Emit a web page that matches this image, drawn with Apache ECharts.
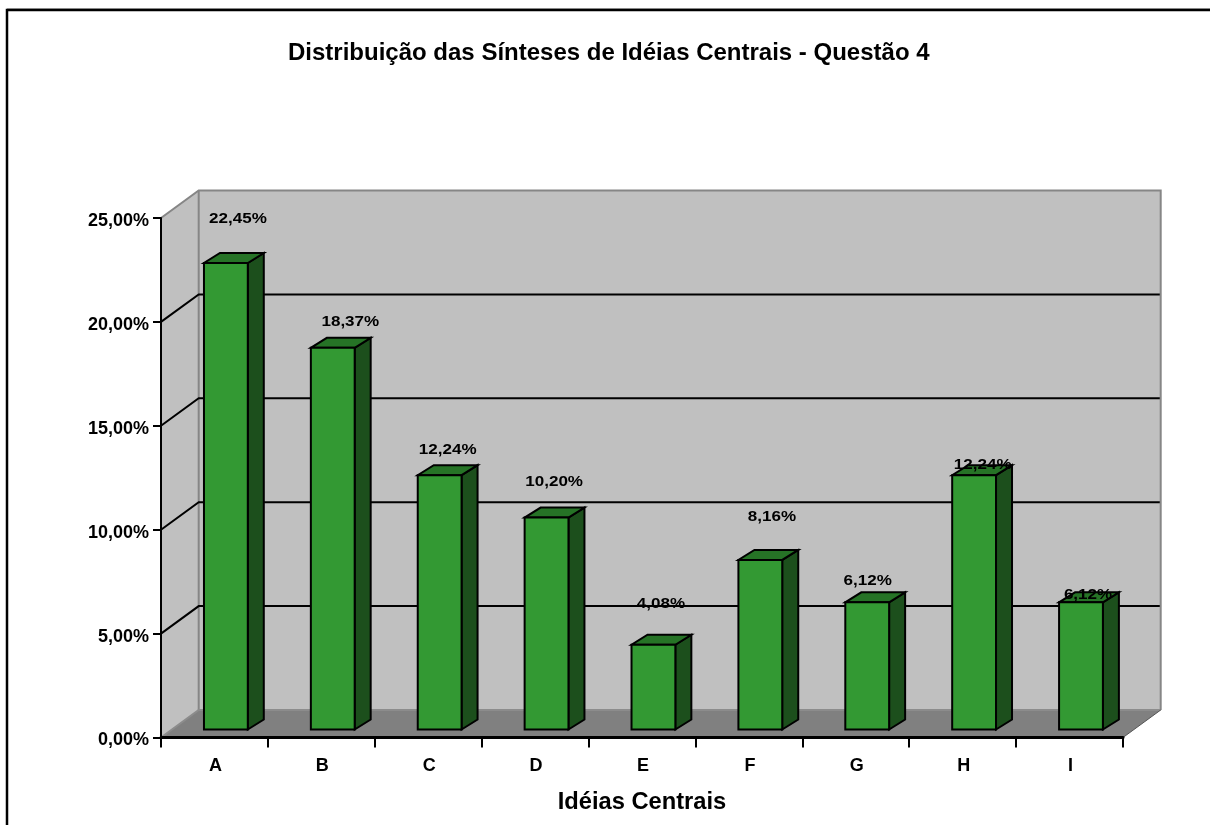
<!DOCTYPE html>
<html>
<head>
<meta charset="utf-8">
<style>html,body{margin:0;padding:0;background:#fff;overflow:hidden}#c{width:1210px;height:825px}</style>
<script src="https://cdn.jsdelivr.net/npm/echarts@6/dist/echarts.min.js"></script>
</head>
<body>
<div id="c"></div>
<script>
const categories = ['A','B','C','D','E','F','G','H','I'];
const shares = [22.45,18.37,12.24,10.20,4.08,8.16,6.12,12.24,6.12];
const wallTicks = [5,10,15,20];
const titleText = 'Distribuição das Sínteses de Idéias Centrais - Questão 4';
const axisName = 'Idéias Centrais';
// manual placement of the data labels relative to each bar's front top edge
const labelShiftX = [23.5,29,19.5,19,19,23,12,20,18.5];
const labelLift = [44.5,26,25.5,36,41,43,22,10,8];

const FF = '"Liberation Sans", Arial, sans-serif';
const depthX = 37.7, depthY = 27.5;
const barFrac = 0.29, barDX = 16, barDY = 10, barWidthRatio = 0.41, barNudge = 0.5;

function fmt(v){ return v.toFixed(2).replace('.', ',') + '%'; }

function renderWalls(params, api){
  const cs = params.coordSys;
  const x0 = cs.x, x1 = cs.x + cs.width, yT = cs.y, y0 = cs.y + cs.height;
  const bx0 = x0 + depthX, bx1 = x1 + depthX, byT = yT - depthY, by0 = y0 - depthY;
  const kids = [];
  const poly = (pts, fill) => kids.push({type:'polygon', shape:{points:pts}, style:{fill:fill, stroke:null}});
  const line = (pts, color, w) => kids.push({type:'polyline', shape:{points:pts}, style:{fill:null, stroke:color, lineWidth:w}});
  poly([[x0,y0],[bx0,by0],[bx0,byT],[x0,yT]], '#c0c0c0');
  poly([[bx0,by0],[bx1,by0],[bx1,byT],[bx0,byT]], '#c0c0c0');
  poly([[x0,y0],[x1,y0],[bx1,by0],[bx0,by0]], '#808080');
  line([[bx0,byT],[bx0,by0]], '#868686', 2);
  wallTicks.forEach(t => {
    const y = api.coord([0,t])[1];
    line([[x0,y],[bx0,y-depthY],[bx1,y-depthY]], '#000', 2);
  });
  line([[x0,yT],[bx0,byT],[bx1,byT],[bx1,by0]], '#868686', 2);
  line([[x0,y0],[bx0,by0],[bx1,by0]], '#8c8c8c', 2);
  line([[x1,y0],[bx1,by0]], '#555', 1);
  return {type:'group', children:kids};
}

function renderBar(params, api){
  const i = api.value(0), v = api.value(1);
  const top = api.coord([i,v]), base = api.coord([i,0]);
  const band = api.size([1,0])[0];
  const w = band * barWidthRatio;
  const ox = depthX * barFrac + barNudge, oy = depthY * barFrac;
  const l = top[0] + ox - w/2, r = l + w, t = top[1] - oy, b = base[1] - oy;
  const st = fill => ({fill:fill, stroke:'#000', lineWidth:2, lineJoin:'miter'});
  return {type:'group', children:[
    {type:'polygon', shape:{points:[[r,b],[r+barDX,b-barDY],[r+barDX,t-barDY],[r,t]]}, style:st('#1c4f1c')},
    {type:'polygon', shape:{points:[[l,t],[r,t],[r+barDX,t-barDY],[l+barDX,t-barDY]]}, style:st('#267326')},
    {type:'polygon', shape:{points:[[l,t],[r,t],[r,b],[l,b]]}, style:st('#339933')}
  ]};
}

function renderLabel(params, api){
  const i = api.value(0), v = api.value(1);
  const top = api.coord([i,v]);
  return {type:'text',
    x: top[0] + labelShiftX[i], y: top[1] - depthY*barFrac - labelLift[i], scaleX:1.1,
    style:{text: fmt(v), fill:'#000', font: 'bold 15.5px ' + FF, textAlign:'center', textVerticalAlign:'middle'}
  };
}

const chart = echarts.init(document.getElementById('c'), null, {renderer:'canvas', width:1210, height:825});
const barData = categories.map((c,i) => [i, shares[i]]);
chart.setOption({
  animation:false,
  backgroundColor:'#fff',
  title:{text:titleText, left:288, top:41, padding:0, textStyle:{color:'#000', fontFamily:FF, fontWeight:'bold', fontSize:24}},
  grid:{left:161, right:87, top:218, bottom:87.5, containLabel:false},
  xAxis:{type:'category', data:categories, boundaryGap:true, z:10,
    name:axisName, nameLocation:'middle', nameGap:53,
    nameTextStyle:{color:'#000', fontFamily:FF, fontWeight:'bold', fontSize:23.7},
    axisLine:{show:true, lineStyle:{color:'#000', width:3}},
    axisTick:{show:true, alignWithLabel:false, length:10, lineStyle:{color:'#000', width:2}},
    axisLabel:{color:'#000', fontFamily:FF, fontWeight:'bold', fontSize:18, margin:20, padding:[0,0,0,2]},
    splitLine:{show:false}},
  yAxis:{type:'value', min:0, max:25, interval:5, z:10,
    axisLine:{show:true, lineStyle:{color:'#000', width:2}},
    axisTick:{show:true, length:8, lineStyle:{color:'#000', width:2}},
    axisLabel:{color:'#000', fontFamily:FF, fontWeight:'bold', fontSize:18, margin:12, verticalAlign:'top', lineHeight:6, formatter:fmt},
    splitLine:{show:false}},
  graphic:[{type:'polyline', z:-1, silent:true, shape:{points:[[7,900],[7,10],[1300,10]]}, style:{fill:null, stroke:'#000', lineWidth:2.5}},
           {type:'line', z:-1, silent:true, shape:{x1:7,y1:8.5,x2:1300,y2:8.5}, style:{stroke:'#888', lineWidth:1}}],
  series:[
    {type:'custom', name:'walls', coordinateSystem:'cartesian2d', z:1, silent:true, data:[[0,0]], encode:{x:0,y:1}, renderItem:renderWalls, tooltip:{show:false}},
    {type:'custom', name:'Sínteses', coordinateSystem:'cartesian2d', z:5, silent:true, data:barData, encode:{x:0,y:1}, renderItem:renderBar},
    {type:'custom', name:'rótulos', coordinateSystem:'cartesian2d', z:20, silent:true, data:barData, encode:{x:0,y:1}, renderItem:renderLabel}
  ]
});
</script>
</body>
</html>
